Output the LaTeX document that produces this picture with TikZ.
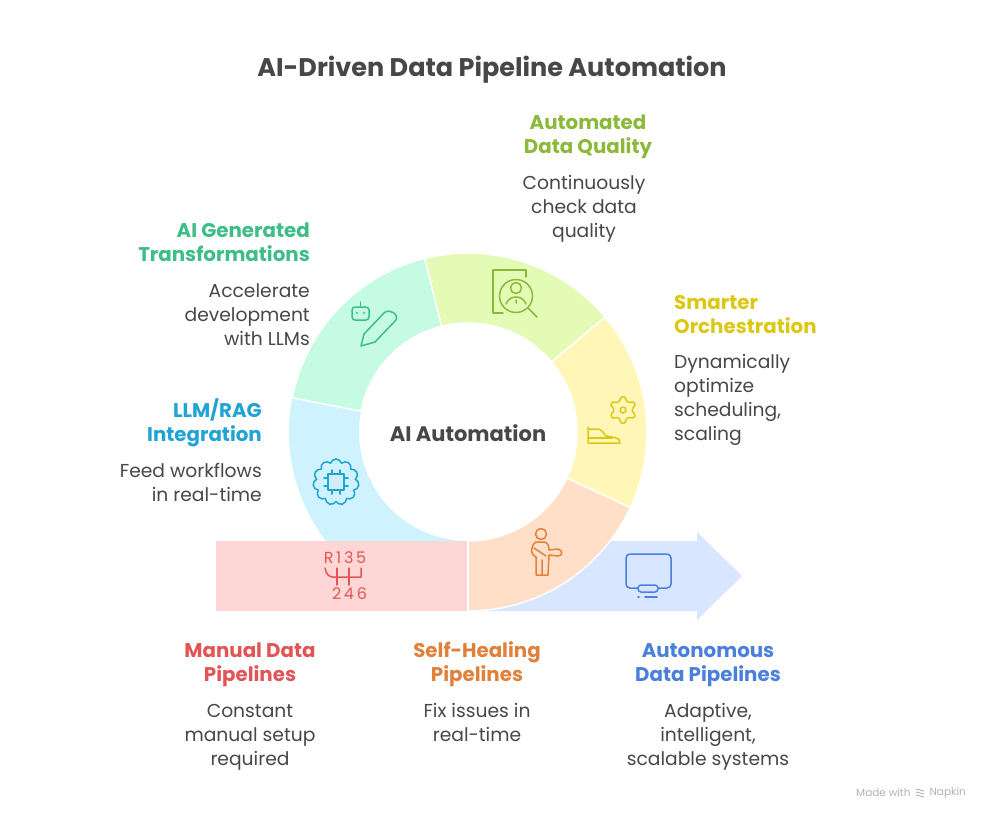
\documentclass[tikz,border=0pt]{standalone}
\usepackage{fontspec}
\setmainfont{Poppins}
\usetikzlibrary{positioning,shapes.symbols}

\definecolor{inkgray}{HTML}{474747}
\definecolor{manualred}{HTML}{E25555}
\definecolor{healorange}{HTML}{E0803A}
\definecolor{autoblue}{HTML}{4B7FDC}
\definecolor{ragcyan}{HTML}{22A3D6}
\definecolor{genegreen}{HTML}{3DBD87}
\definecolor{qualitylime}{HTML}{8DB93B}
\definecolor{orchyellow}{HTML}{DCC813}
\definecolor{manualfill}{HTML}{FFD6D6}
\definecolor{healfill}{HTML}{FFDFC7}
\definecolor{autonfill}{HTML}{D9E6FF}
\definecolor{ragfill}{HTML}{CFF2FF}
\definecolor{genefill}{HTML}{C6FBE3}
\definecolor{qualityfill}{HTML}{E3FBB4}
\definecolor{orchfill}{HTML}{FFF6B8}

\begin{document}
\begin{tikzpicture}[x=1pt,y=-1pt,
 head node/.style={inner sep=0pt,font=\fontsize{19.8}{24}\selectfont\bfseries},
 body node/.style={inner sep=0pt,text=inkgray,font=\fontsize{18.7}{24}\selectfont},
 icon line/.style={line width=1.5pt,line cap=round,line join=round}]
\useasboundingbox (0,0) rectangle (984,816);
\fill[white] (0,0) rectangle (984,816);

\node[inner sep=0pt,text=inkgray,font=\fontsize{25.5}{28}\selectfont\bfseries](title) at (492,70){AI-Driven Data Pipeline Automation};

% arrow and bar under the ring
\fill[autonfill] (468,541) -- (697,541) -- (697,532) -- (742,576) -- (697,620) -- (697,611) -- (468,611) -- cycle;
\begin{scope}
 \clip (280,240) rectangle (660,540);
 \fill[ragfill,shift={(468,432)}] (90:179) arc[start angle=90,end angle=191,radius=179] -- (191:109) arc[start angle=191,end angle=90,radius=109] -- cycle;
\end{scope}
\fill[manualfill] (216,541) rectangle (467,611);

\begin{scope}[shift={(468,432)}]
 \foreach \a/\b/\c in {191/256/genefill, 256/320/qualityfill, 320/385/orchfill, 25/90/healfill}{
   \fill[\c,draw=white,line width=1.5pt] (\a:179) arc[start angle=\a,end angle=\b,radius=179] -- (\b:109) arc[start angle=\b,end angle=\a,radius=109] -- cycle;}
\end{scope}

\node[inner sep=0pt,text=inkgray,font=\fontsize{21}{24}\selectfont\bfseries](center) at (468,433){AI Automation};

% headings
\node[head node,text=qualitylime,align=center](quality) at (588,137){Automated\\Data Quality};
\node[head node,text=genegreen,align=right,anchor=east](gene) at (310,242){AI Generated\\Transformations};
\node[head node,text=orchyellow,align=left,anchor=west](orch) at (674,315){Smarter\\Orchestration};
\node[head node,text=ragcyan,align=right,anchor=east](rag) at (262,423){LLM/RAG\\Integration};
\node[head node,text=manualred,align=center](manual) at (250,665){Manual Data\\Pipelines};
\node[head node,text=healorange,align=center](heal) at (477,664){Self-Healing\\Pipelines};
\node[head node,text=autoblue,align=center](auton) at (708,665){Autonomous\\Data Pipelines};

% descriptions
\node[body node,align=center,xshift=-4pt,below=16pt of quality](qualitytxt){Continuously\\check data\\quality};
\node[body node,align=right,below left=22pt and 0pt of gene.south east](genetxt){Accelerate\\development\\with LLMs};
\node[body node,align=left,below right=20pt and 0pt of orch.south west](orchtxt){Dynamically\\optimize\\scheduling,\\scaling};
\node[body node,align=right,below left=16pt and 0pt of rag.south east](ragtxt){Feed workflows\\in real-time};
\foreach \s/\t/\g/\u in {manualtxt/manual/17/{Constant\\manual setup\\required}, healtxt/heal/16/{Fix issues in\\real-time}, autontxt/auton/16/{Adaptive,\\intelligent,\\scalable systems}}{
  \node[body node,align=center,below=\g pt of \t](\s){\u};}

% gear shift
\node[inner sep=0pt,text=manualred,font=\fontsize{16}{16}\selectfont\addfontfeature{LetterSpace=17}](rnums) at (345,558){R135};
\node[inner sep=0pt,text=manualred,font=\fontsize{16}{16}\selectfont\addfontfeature{LetterSpace=17}](evens) at (349.5,594){246};
\draw[icon line,manualred] (325,568) .. controls (326,574) and (329,577) .. (333,577) -- (361,577) -- (361,568);
\foreach \s in {337,349}{
  \draw[icon line,manualred] (\s,568) -- (\s,585);}

% person
\draw[icon line,healorange] (541,534) circle[radius=5.5];
\draw[icon line,healorange] (536,542) -- (545,542) .. controls (549,544) and (549,548) .. (549,550) -- (558,549) .. controls (563,550) and (563,556) .. (558,556) -- (549,555) -- (548,575) -- (536,575) -- (536,557) .. controls (530,555) and (530,546) .. (536,542);
\draw[icon line,healorange] (542,560) -- (542,575) (534,548) -- (546,556);

% monitor
\draw[icon line,autoblue,rounded corners=4pt] (626,554) rectangle (671,588);
\draw[icon line,autoblue,fill=autonfill,rounded corners=3pt] (638,585) rectangle (658,592);
\draw[icon line,autoblue] (638,597) -- (639,597) (645,597) -- (657,597);

% brain and chip
\node[cloud,draw=ragcyan,cloud puffs=11,cloud puff arc=150,aspect=1,line width=1.5pt,minimum width=46pt,minimum height=46pt,inner sep=0pt](brain) at (336,482){};
\draw[icon line,ragcyan,fill=ragcyan!20] (328,474) rectangle (344,490);
\foreach \s in {332,340}{
  \draw[icon line,ragcyan] (\s,470) -- (\s,474) (\s,490) -- (\s,494);}
\foreach \s in {478,486}{
  \draw[icon line,ragcyan] (324,\s) -- (328,\s) (344,\s) -- (348,\s);}

% robot and pencil
\draw[icon line,genegreen,rounded corners=3pt] (352,307) rectangle (369,320);
\draw[icon line,genegreen] (360.5,302) -- (360.5,307);
\fill[genegreen] (357,313) circle[radius=1.2] (364,313) circle[radius=1.2];
\draw[icon line,genegreen] (361,346) -- (364,334) -- (384,313) .. controls (389,308) and (399,314) .. (396,320) -- (375,342) -- cycle;

% document and magnifier
\draw[icon line,qualitylime] (526,277) -- (526,270) -- (493,270) -- (493,313) -- (503,313);
\draw[icon line,qualitylime] (516,296) circle[radius=16.5];
\draw[icon line,qualitylime] (528,308) -- (537,317);
\draw[icon line,qualitylime] (516,288) circle[radius=5.5];
\draw[icon line,qualitylime] (506,304) .. controls (508,299) and (512,297) .. (516,297) .. controls (520,297) and (524,299) .. (526,304) (516,300) -- (516,303);

% gear and shoe
\draw[icon line,orchyellow,shift={(623,410)}] plot[smooth cycle,tension=.4,domain=0:23,samples=24] ({\x*15+7.5}:{abs(mod(\x,4)-1.5)<1 ? 13 : 9.5});
\draw[icon line,orchyellow] (623,410) circle[radius=3];
\draw[icon line,orchyellow] (588,427) -- (588,443) -- (620,443) .. controls (620,439) and (617,438) .. (612,437) -- (606,436) .. controls (603,432) and (601,429) .. (597,429) -- (588,429);
\draw[icon line,orchyellow] (588,438) -- (612,438);

% footer
\node[inner sep=0pt,text=black!30,font=\fontsize{10.5}{12}\selectfont,anchor=west](made) at (856,793){Made with};
\node[inner sep=0pt,text=black!30,font=\fontsize{10.5}{12}\selectfont,anchor=east](napkin) at (966,793){Napkin};
\foreach \s in {789,792,795}{
  \draw[black!30,line width=.9pt] (916,\s) -- (924,\s+2);}
\end{tikzpicture}
\end{document}
